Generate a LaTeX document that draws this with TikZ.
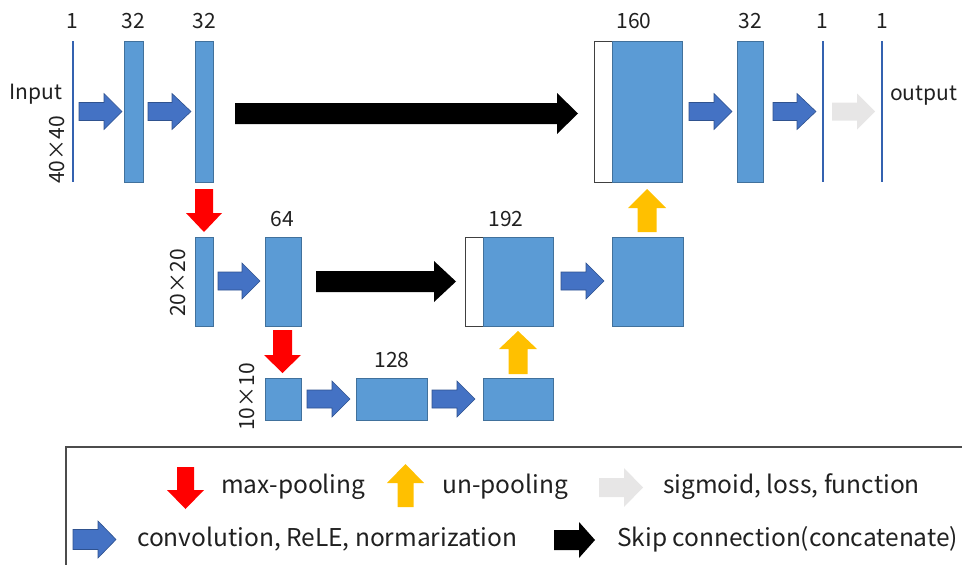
\documentclass[tikz,border=0pt]{standalone}
\usepackage{fontspec}
\setmainfont{Noto Sans CJK JP}
\definecolor{boxfill}{HTML}{5B9BD5}
\definecolor{boxline}{HTML}{41719C}
\definecolor{arrblue}{HTML}{4472C4}
\definecolor{arrline}{HTML}{2F528F}
\definecolor{thinline}{HTML}{3462B0}
\definecolor{poolred}{HTML}{FF0000}
\definecolor{unpool}{HTML}{FFC000}
\definecolor{sigray}{HTML}{E7E6E6}
\definecolor{txt}{HTML}{202020}
\newcommand\harr[7]{\path[#1] (#2,#4-#5) -- (#3-#7,#4-#5) -- (#3-#7,#4-#6) -- (#3,#4) -- (#3-#7,#4+#6) -- (#3-#7,#4+#5) -- (#2,#4+#5) -- cycle;}
\newcommand\darr[7]{\path[#1] (#2-#5,#3) -- (#2+#5,#3) -- (#2+#5,#4-#7) -- (#2+#6,#4-#7) -- (#2,#4) -- (#2-#6,#4-#7) -- (#2-#5,#4-#7) -- cycle;}
\newcommand\uarr[7]{\path[#1] (#2-#5,#3) -- (#2+#5,#3) -- (#2+#5,#4+#7) -- (#2+#6,#4+#7) -- (#2,#4) -- (#2-#6,#4+#7) -- (#2-#5,#4+#7) -- cycle;}
\begin{document}
\begin{tikzpicture}[x=1pt,y=-1pt,
  blk/.style={draw=boxline,fill=boxfill,line width=1pt,inner sep=0pt},
  wblk/.style={draw=black!75,fill=white,line width=1pt,inner sep=0pt},
  thin/.style={draw=thinline,line width=2.5pt},
  conv/.style={fill=arrblue,draw=arrline,line width=0.6pt},
  skip/.style={fill=black},
  maxp/.style={fill=poolred},
  unp/.style={fill=unpool},
  sig/.style={fill=sigray},
  lab/.style={text=txt,font=\fontsize{21}{24}\selectfont,inner sep=0pt},
  leg/.style={text=txt,font=\fontsize{24.5}{28}\selectfont,inner sep=0pt,anchor=west},
  legendline/.style={draw=black!70,line width=1.2pt}]
\useasboundingbox (0,0) rectangle (962,565);
% ---- top row
\coordinate (in0) at (73,41); \coordinate (in1) at (73,182);
\draw[thin] (in0) -- (in1);
\node[blk,minimum width=19pt,minimum height=141pt] (b1) at (133.5,111.5) {};
\node[blk,minimum width=18pt,minimum height=141pt] (b2) at (204,111.5) {};
\node[wblk,minimum width=18pt,minimum height=141pt] (w1) at (603,111.5) {};
\node[blk,minimum width=70pt,minimum height=141pt] (b3) at (647,111.5) {};
\node[blk,minimum width=26pt,minimum height=141pt] (b4) at (750,111.5) {};
\coordinate (o1a) at (823,41); \coordinate (o1b) at (823,182);
\draw[thin] (o1a) -- (o1b);
\coordinate (o2a) at (882,41); \coordinate (o2b) at (882,182);
\draw[thin] (o2a) -- (o2b);
\harr{conv}{79}{122}{111.5}{9}{18}{18}
\harr{conv}{148}{191}{111.5}{9}{18}{19}
\harr{skip}{235}{578}{113.5}{10.5}{20.5}{21}
\harr{conv}{689}{732}{111.5}{9}{18}{18}
\harr{conv}{773}{816}{111.5}{9}{18}{19}
\harr{sig}{832}{875}{111.5}{9}{18}{18}
\node[lab] (l1) at (72,21) {1};
\node[lab] (l2) at (133,21) {32};
\node[lab] (l3) at (204,21) {32};
\node[lab] (l4) at (634,21) {160};
\node[lab] (l5) at (750,21) {32};
\node[lab] (l6) at (822,21) {1};
\node[lab] (l7) at (882,21) {1};
\node[lab] (tin) at (36,94) {Input};
\node[lab,anchor=west] (tout) at (890,96) {output};
\node[lab,rotate=90] (s40) at (57,150) {40×40};
% ---- middle row
\darr{maxp}{204}{189}{232}{9}{18}{19}
\node[blk,minimum width=18pt,minimum height=89pt] (m1) at (204,281.5) {};
\node[blk,minimum width=36pt,minimum height=89pt] (m2) at (283,281.5) {};
\node[wblk,minimum width=18pt,minimum height=89pt] (w2) at (474,281.5) {};
\node[blk,minimum width=70pt,minimum height=89pt] (m3) at (518,281.5) {};
\node[blk,minimum width=71pt,minimum height=89pt] (m4) at (647.5,281.5) {};
\harr{conv}{218}{260}{281}{9}{18}{18}
\harr{skip}{316}{456}{281.5}{10.5}{20.5}{22}
\harr{conv}{561}{604}{281}{9}{18}{18}
\uarr{unp}{647}{232}{189}{9.5}{19}{19}
\node[lab] (l8) at (282,219) {64};
\node[lab] (l9) at (506,219) {192};
\node[lab,rotate=90] (s20) at (178,283) {20×20};
% ---- bottom row
\darr{maxp}{282.5}{330}{373}{9.5}{18.5}{18}
\node[blk,minimum width=36pt,minimum height=42pt] (d1) at (283,399) {};
\node[blk,minimum width=71pt,minimum height=42pt] (d2) at (391.5,399) {};
\node[blk,minimum width=70pt,minimum height=42pt] (d3) at (518,399) {};
\harr{conv}{307}{350}{399}{9}{18}{18}
\harr{conv}{432}{475}{399}{9}{18}{18}
\uarr{unp}{518}{374}{331}{9.5}{19}{18}
\node[lab] (l10) at (392,360) {128};
\node[lab,rotate=90] (s10) at (247,397) {10×10};
% ---- legend
\coordinate (lg0) at (66,565); \coordinate (lg1) at (66,447); \coordinate (lg2) at (962,447);
\draw[legendline] (lg0) -- (lg1) -- (lg2);
\darr{maxp}{185.5}{467}{509}{8.5}{18.5}{19}
\node[leg] (t1) at (221,487) {max-pooling};
\uarr{unp}{405.5}{507}{464}{8}{18.5}{19}
\node[leg] (t2) at (442,487) {un-pooling};
\harr{sig}{599}{643}{487.5}{9.5}{19.5}{19}
\node[leg] (t3) at (663,487) {sigmoid, loss, function};
\harr{conv}{73}{116}{539.5}{10}{18.5}{18}
\node[leg] (t4) at (137,539) {convolution, ReLE, normarization};
\harr{skip}{554}{595}{540}{10}{18}{16}
\node[leg] (t5) at (617,539) {Skip connection(concatenate)};
\end{tikzpicture}
\end{document}
